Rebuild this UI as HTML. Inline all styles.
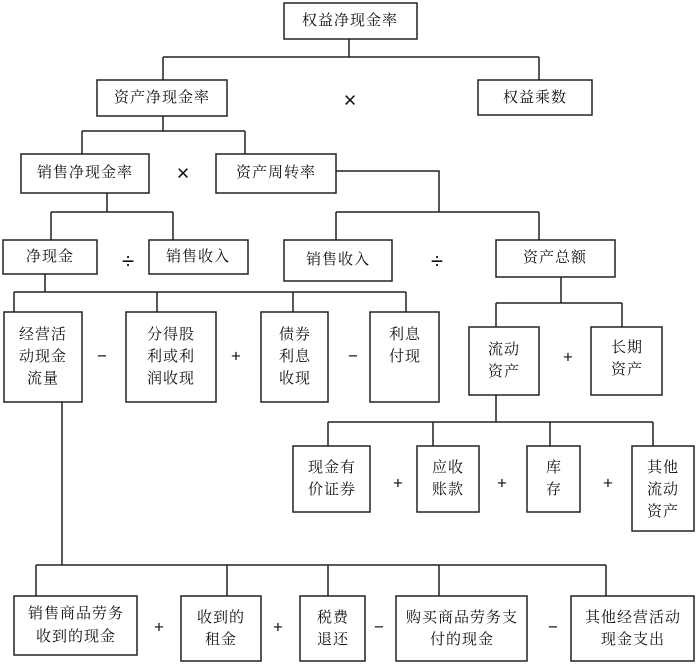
<!DOCTYPE html>
<html><head><meta charset="utf-8"><style>
html,body{margin:0;padding:0;background:#fff;}
svg{display:block;}
text{font-family:"Liberation Serif","Noto Serif CJK SC","Noto Sans CJK SC",serif;font-size:15px;fill:#111;text-anchor:middle;dominant-baseline:central;letter-spacing:1px;}
.op{font-family:"Liberation Sans","DejaVu Sans",sans-serif;font-size:17px;letter-spacing:0;}
.big{font-size:22px;}
rect{fill:#fff;stroke:#222;stroke-width:1.5;}
path{fill:none;stroke:#222;stroke-width:1.5;}
</style></head><body>
<svg width="700" height="664" viewBox="0 0 700 664" xmlns="http://www.w3.org/2000/svg">
<path d="M349 39V57M163 57H539M163 57V80M539 57V80"/>
<path d="M163 116V131M82 131H245M82 131V154M245 131V154"/>
<path d="M107 193V212M51 212H173M51 212V240M173 212V240"/>
<path d="M336 171H439V212M336 212H539M336 212V240M539 212V240"/>
<path d="M45 274V292M14 292H406M14 292V312M157 292V312M293 292V312M406 292V312"/>
<path d="M561 277V303M496 303H622M496 303V327M622 303V327"/>
<path d="M496 395V422M328 422H653M328 422V446M433 422V446M550 422V446M653 422V446"/>
<path d="M62 402V565M36 565H606M36 565V596M227 565V596M328 565V596M439 565V596M606 565V596"/>
<rect x="284" y="3" width="133" height="36"/><text x="350" y="21">权益净现金率</text>
<rect x="97" y="80" width="130" height="36"/><text x="162" y="98">资产净现金率</text>
<rect x="478" y="80" width="114" height="35"/><text x="535" y="98">权益乘数</text>
<rect x="21" y="154" width="128" height="39"/><text x="85" y="173">销售净现金率</text>
<rect x="216" y="154" width="120" height="39"/><text x="276" y="173">资产周转率</text>
<rect x="3" y="240" width="94" height="34"/><text x="50" y="257">净现金</text>
<rect x="149" y="240" width="99" height="34"/><text x="198" y="257">销售收入</text>
<rect x="284" y="240" width="108" height="41"/><text x="338" y="260">销售收入</text>
<rect x="496" y="240" width="119" height="37"/><text x="555" y="258">资产总额</text>
<rect x="4" y="312" width="78" height="90"/><text x="43" y="335">经营活</text><text x="43" y="357">动现金</text><text x="43" y="379">流量</text>
<rect x="126" y="312" width="90" height="90"/><text x="171" y="335">分得股</text><text x="171" y="357">利或利</text><text x="171" y="379">润收现</text>
<rect x="261" y="312" width="67" height="90"/><text x="295" y="335">债券</text><text x="295" y="357">利息</text><text x="295" y="379">收现</text>
<rect x="370" y="312" width="69" height="90"/><text x="405" y="335">利息</text><text x="405" y="357">付现</text>
<rect x="469" y="327" width="70" height="68"/><text x="504" y="350">流动</text><text x="504" y="372">资产</text>
<rect x="591" y="327" width="71" height="68"/><text x="627" y="348">长期</text><text x="627" y="370">资产</text>
<rect x="293" y="446" width="77" height="66"/><text x="332" y="468">现金有</text><text x="332" y="490">价证券</text>
<rect x="417" y="446" width="62" height="66"/><text x="448" y="468">应收</text><text x="448" y="490">账款</text>
<rect x="527" y="446" width="53" height="66"/><text x="554" y="468">库</text><text x="554" y="490">存</text>
<rect x="632" y="446" width="62" height="85"/><text x="663" y="468">其他</text><text x="663" y="490">流动</text><text x="663" y="512">资产</text>
<rect x="14" y="596" width="123" height="59"/><text x="76" y="614">销售商品劳务</text><text x="76" y="637">收到的现金</text>
<rect x="181" y="596" width="80" height="65"/><text x="221" y="618">收到的</text><text x="221" y="640">租金</text>
<rect x="300" y="596" width="65" height="65"/><text x="333" y="618">税费</text><text x="333" y="640">退还</text>
<rect x="396" y="596" width="131" height="65"/><text x="462" y="618">购买商品劳务支</text><text x="462" y="640">付的现金</text>
<rect x="571" y="596" width="123" height="65"/><text x="633" y="618">其他经营活动</text><text x="633" y="640">现金支出</text>
<text class="op big" x="350" y="100">×</text>
<text class="op big" x="183" y="173">×</text>
<text class="op big" x="128" y="261">÷</text>
<text class="op big" x="437" y="261">÷</text>
<text class="op" x="102" y="356">−</text>
<text class="op" x="236" y="356">+</text>
<text class="op" x="353" y="356">−</text>
<text class="op" x="568" y="357">+</text>
<text class="op" x="398" y="483">+</text>
<text class="op" x="502" y="483">+</text>
<text class="op" x="608" y="483">+</text>
<text class="op" x="159" y="627">+</text>
<text class="op" x="278" y="627">+</text>
<text class="op" x="379" y="627">−</text>
<text class="op" x="553" y="627">−</text>
</svg>
</body></html>
